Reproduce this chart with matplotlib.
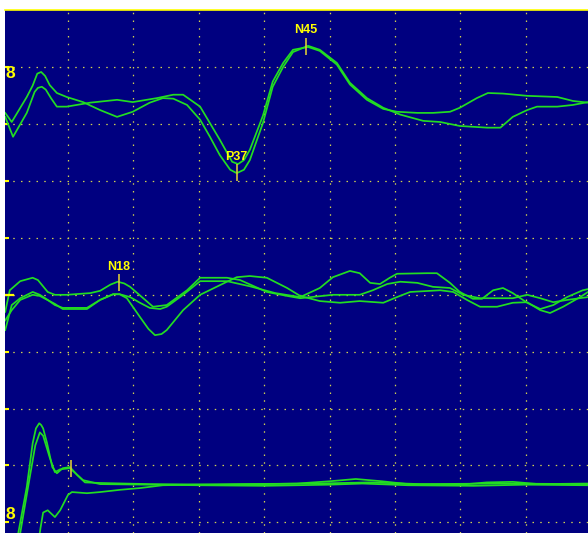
import matplotlib
matplotlib.use('Agg')
import matplotlib.pyplot as plt

# latency in ms, amplitude in screen divisions (gridline 0 at the bottom)
top_a_ms = [0.4, 1.4, 3.7, 4.6, 5.3, 5.9, 6.5, 7.2, 8.3, 9.8, 12.3, 14.9, 17.5, 19.9, 22.5, 24.5, 26.1, 28.2,
            30.2, 31.7, 33.2, 34.8, 35.8, 36.9, 37.8, 39.8, 41.3, 42.9, 44.4, 46.7, 48.5, 51.1, 53.1, 55.7,
            58.2, 60.8, 64.3, 66.9, 69.9, 74.1, 76.1, 78.0, 80.2, 81.7, 84.8, 87.2, 89.5]
top_a = [7.20, 7.04, 7.48, 7.68, 7.89, 7.92, 7.85, 7.69, 7.55, 7.48, 7.39, 7.25, 7.13, 7.22, 7.38, 7.46, 7.45, 7.34,
         7.08, 6.78, 6.46, 6.20, 6.14, 6.20, 6.37, 7.02, 7.66, 8.01, 8.27, 8.38, 8.31, 8.08, 7.73, 7.46,
         7.29, 7.17, 7.06, 7.04, 6.97, 6.94, 6.94, 7.13, 7.25, 7.31, 7.31, 7.34, 7.39]

top_b_ms = [0.4, 1.6, 3.7, 4.9, 5.4, 6.0, 6.6, 7.4, 8.3, 9.8, 13.4, 17.5, 19.9, 23.6, 26.1, 27.6, 30.2, 31.7,
            33.2, 35.1, 36.0, 36.9, 37.8, 39.8, 41.3, 42.9, 44.4, 46.7, 48.5, 51.1, 53.1, 55.7, 58.2, 60.3,
            63.4, 65.8, 68.4, 69.9, 72.5, 74.2, 76.5, 80.2, 84.8, 87.2, 89.5]
top_b = [7.13, 6.78, 7.20, 7.57, 7.64, 7.66, 7.61, 7.46, 7.31, 7.31, 7.38, 7.43, 7.39, 7.46, 7.52, 7.52, 7.31, 7.02,
         6.73, 6.34, 6.30, 6.37, 6.55, 7.15, 7.75, 8.08, 8.31, 8.36, 8.29, 8.05, 7.70, 7.43, 7.27, 7.22,
         7.20, 7.20, 7.22, 7.29, 7.46, 7.55, 7.54, 7.50, 7.48, 7.41, 7.38]

mid_a_ms = [0.4, 1.1, 2.7, 4.6, 5.4, 6.9, 8.0, 9.8, 13.4, 14.9, 16.5, 17.6, 18.6, 19.5, 21.5, 23.0, 25.1, 28.2,
            30.2, 34.3, 36.3, 40.4, 43.5, 45.5, 50.5, 54.6, 56.6, 58.8, 60.8, 63.4, 65.8, 68.4, 70.4, 73.0,
            78.0, 80.2, 82.2, 84.2, 86.3, 89.5]
mid_a = [3.70, 4.08, 4.24, 4.30, 4.26, 4.05, 4.00, 4.00, 4.03, 4.07, 4.18, 4.23, 4.20, 4.14, 3.94, 3.79, 3.82, 4.08,
         4.30, 4.30, 4.26, 4.05, 3.98, 3.94, 4.00, 4.00, 4.08, 4.19, 4.23, 4.21, 4.14, 4.12, 4.00, 3.94,
         3.94, 4.00, 3.94, 3.87, 3.91, 3.96]

mid_b_ms = [0.4, 1.4, 2.7, 4.6, 5.7, 6.9, 8.0, 9.2, 12.9, 14.9, 16.9, 17.9, 19.5, 21.0, 22.5, 24.1, 25.1,
            27.6, 30.2, 34.3, 37.8, 41.7, 45.5, 48.5, 50.5, 53.1, 54.6, 56.2, 57.7, 59.2, 60.3, 64.9, 66.4,
            68.4, 69.9, 71.9, 73.3, 75.0, 76.5, 78.0, 80.2, 82.2, 84.2, 86.3, 88.7, 89.5]
mid_b = [3.38, 3.82, 3.94, 4.05, 4.00, 3.91, 3.82, 3.77, 3.77, 3.91, 4.01, 4.01, 3.96, 3.86, 3.77, 3.75, 3.79,
         4.00, 4.24, 4.24, 4.15, 4.03, 3.96, 4.12, 4.31, 4.42, 4.38, 4.21, 4.19, 4.30, 4.37, 4.38, 4.38,
         4.21, 4.05, 3.93, 3.93, 4.08, 4.12, 4.03, 3.86, 3.75, 3.82, 3.96, 4.08, 4.10]

mid_c_ms = [0.4, 1.4, 2.7, 4.6, 5.7, 8.0, 9.2, 12.9, 14.9, 16.9, 17.9, 19.0, 21.0, 22.3, 23.3, 24.3, 25.1,
            27.6, 30.2, 34.3, 35.8, 37.8, 40.4, 43.5, 45.5, 48.5, 51.6, 54.6, 58.2, 60.3, 62.3, 66.9, 68.9,
            71.0, 73.0, 75.6, 78.0, 80.2, 82.2, 83.7, 85.7, 88.3, 89.5]
mid_c = [3.55, 3.73, 3.91, 4.00, 3.98, 3.84, 3.75, 3.75, 3.91, 4.01, 4.01, 3.94, 3.61, 3.40, 3.29, 3.31, 3.38,
         3.73, 4.00, 4.23, 4.31, 4.33, 4.30, 4.12, 3.98, 3.89, 3.86, 3.89, 3.86, 3.96, 4.05, 4.08, 4.05,
         3.91, 3.79, 3.79, 3.86, 3.87, 3.73, 3.68, 3.79, 3.96, 4.05]

bot_a_ms = [1.9, 2.4, 3.7, 4.6, 5.1, 5.6, 5.9, 6.2, 6.8, 7.6, 8.3, 9.2, 10.3, 11.4, 12.6, 14.9, 22.5, 35.0,
            45.0, 50.0, 54.0, 58.0, 62.0, 70.0, 74.0, 78.0, 82.0, 89.5]
bot_a = [-0.40, -0.19, 0.62, 1.39, 1.65, 1.74, 1.71, 1.65, 1.39, 0.97, 0.86, 0.95, 0.97, 0.83, 0.70, 0.69, 0.67,
         0.66, 0.68, 0.72, 0.76, 0.72, 0.67, 0.66, 0.70, 0.71, 0.67, 0.68]

bot_b_ms = [2.1, 2.7, 3.9, 5.0, 5.7, 6.2, 7.2, 8.0, 8.8, 10.3, 12.3, 14.9, 22.5, 30.0, 40.0, 50.0, 55.0,
            62.0, 72.0, 80.0, 89.5]
bot_b = [-0.40, -0.19, 0.62, 1.35, 1.58, 1.52, 1.14, 0.88, 0.93, 0.95, 0.74, 0.67, 0.66, 0.65, 0.64, 0.66, 0.68,
         0.65, 0.64, 0.66, 0.65]

bot_c_ms = [5.5, 5.8, 6.2, 6.9, 8.0, 8.8, 10.0, 10.6, 12.9, 14.9, 18.0, 21.0, 24.5, 35.0, 48.0, 56.0, 64.0,
            76.0, 89.5]
bot_c = [-0.35, -0.10, 0.17, 0.21, 0.09, 0.21, 0.48, 0.53, 0.51, 0.53, 0.57, 0.60, 0.65, 0.67, 0.68, 0.70, 0.67,
         0.68, 0.67]

peak_names = ['N18', 'P37', 'N45', '']
peak_ms = [17.8, 35.8, 46.4, 10.5]
peak_amp = [4.21, 6.15, 8.37, 0.94]

bg = '#000080'
trace = '#22dd22'
yellow = '#ffff00'

fig = plt.figure(figsize=(5.88, 5.33), dpi=100)
ax = fig.add_axes([5 / 588, 0, 583 / 588, 523 / 533])
ax.set_facecolor(bg)

for xs, ys in [(top_a_ms, top_a), (top_b_ms, top_b), (mid_a_ms, mid_a), (mid_b_ms, mid_b),
               (mid_c_ms, mid_c), (bot_a_ms, bot_a), (bot_b_ms, bot_b), (bot_c_ms, bot_c)]:
    ax.plot(xs, ys, color=trace, lw=1.25, solid_joinstyle='round')

for name, t, a in zip(peak_names, peak_ms, peak_amp):
    ax.vlines(t, a - 0.15, a + 0.15, color='#d8c838', lw=1.2)
    if name:
        ax.text(t, a + 0.28, name, color=yellow, ha='center', va='center',
                fontsize=9, fontweight='bold', family='Liberation Sans')

ax.set_xlim(0.37, 89.5)
ax.set_ylim(-0.19, 9.01)
ax.set_xticks(range(10, 90, 10))
ax.set_yticks(range(0, 9))
ax.grid(True, color='#d0d050', lw=0.9, linestyle=(0, (1.2, 5.0)))
ax.tick_params(axis='y', direction='in', length=3, width=1.5, color=yellow, labelleft=False)
ax.tick_params(axis='x', length=0, labelbottom=False)
ax.axhline(4, xmin=0, xmax=8 / 583, color=yellow, lw=1.6)

for s in ['left', 'right', 'bottom']:
    ax.spines[s].set_visible(False)
ax.spines['top'].set_color(yellow)
ax.spines['top'].set_linewidth(1.2)

ax.text(1.2, 7.9, '8', color=yellow, fontsize=12.5, fontweight='bold', family='Liberation Sans',
        ha='center', va='center')
ax.text(1.2, 0.14, '8', color=yellow, fontsize=12.5, fontweight='bold', family='Liberation Sans',
        ha='center', va='center')

fig.savefig('out.png', dpi=100, facecolor='white')
